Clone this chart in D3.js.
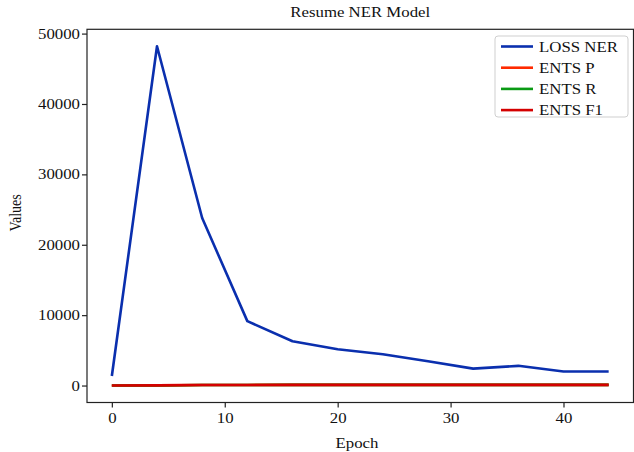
<!DOCTYPE html>
<html>
<head>
<meta charset="utf-8">
<script src="https://cdn.jsdelivr.net/npm/d3@7"></script>
<style>
  html, body { margin: 0; padding: 0; background: #fff; }
  svg { display: block; }
  text { font-family: "Liberation Serif", "Times New Roman", serif; fill: #111; }
</style>
</head>
<body>
<div id="chart"></div>
<script>
// ---- data ----
const epochs   = [0, 4, 8, 12, 16, 20, 24, 28, 32, 36, 40, 44];
const lossNer  = [1350, 48200, 23800, 9150, 6300, 5150, 4450, 3450, 2400, 2800, 2000, 2000];
const entsP    = [0, 22.4, 81.3, 86.9, 88.2, 89.1, 89.5, 90.0, 90.3, 90.1, 90.6, 90.7];
const entsR    = [0, 15.8, 78.6, 85.2, 87.0, 88.3, 88.9, 89.4, 89.8, 89.9, 90.2, 90.4];
const entsF1   = [0, 18.5, 79.9, 86.0, 87.6, 88.7, 89.2, 89.7, 90.0, 90.0, 90.4, 90.5];
const seriesNames  = ["LOSS NER", "ENTS P", "ENTS R", "ENTS F1"];
const seriesColors = ["#0a2fae", "#ff2a00", "#0a9a14", "#d40000"];
const xTicks = [0, 10, 20, 30, 40];
const yTicks = [0, 10000, 20000, 30000, 40000, 50000];
const titleText = "Resume NER Model";
const xLabel = "Epoch";
const yLabel = "Values";

const W = 634, H = 452;
const plot = { left: 87, right: 633.5, top: 29.3, bottom: 402.5 };
const SX = 1.2; // horizontal text stretch seen in reference

const svg = d3.select("#chart").append("svg").attr("width", W).attr("height", H);

const allSeries = [lossNer, entsP, entsR, entsF1];
const xExt = d3.extent(epochs);
const xPad = (xExt[1] - xExt[0]) * 0.05;
const yMin = d3.min(allSeries.flat()), yMax = d3.max(allSeries.flat());
const yPad = (yMax - yMin) * 0.05;

const x = d3.scaleLinear().domain([xExt[0] - xPad, xExt[1] + xPad]).range([plot.left, plot.right]);
const y = d3.scaleLinear().domain([yMin - yPad, yMax + yPad]).range([plot.bottom, plot.top]);

// lines
const line = d3.line().x((d, i) => x(epochs[i])).y(d => y(d));
const g = svg.append("g");
allSeries.forEach((s, k) => {
  g.append("path").datum(s)
    .attr("fill", "none")
    .attr("stroke", seriesColors[k])
    .attr("stroke-width", 2.6)
    .attr("stroke-linejoin", "round")
    .attr("d", line);
});

// frame
svg.append("rect")
  .attr("x", plot.left).attr("y", plot.top)
  .attr("width", plot.right - plot.left).attr("height", plot.bottom - plot.top)
  .attr("fill", "none").attr("stroke", "#222").attr("stroke-width", 1.2);

// axes
const xAxis = svg.append("g").attr("transform", `translate(0,${plot.bottom})`)
  .call(d3.axisBottom(x).tickValues(xTicks).tickSize(5).tickPadding(5.5).tickFormat(d3.format("d")));
const yAxis = svg.append("g").attr("transform", `translate(${plot.left},0)`)
  .call(d3.axisLeft(y).tickValues(yTicks).tickSize(5).tickPadding(2).tickFormat(d3.format("d")));
[xAxis, yAxis].forEach(a => {
  a.select(".domain").remove();
  a.selectAll(".tick line").attr("stroke", "#222").attr("stroke-width", 1.2);
  a.selectAll(".tick text").attr("font-size", 14).attr("font-family", "Liberation Serif, serif").attr("fill", "#111");
});
xAxis.selectAll(".tick text").attr("transform", `scale(${SX},1)`);
yAxis.selectAll(".tick text").each(function() {
  const t = d3.select(this);
  const tx = +t.attr("x");
  t.attr("x", 0).attr("transform", `translate(${tx},0) scale(${SX},1)`);
});

// title and labels
function stretchedText(px, py, txt, anchor, rot) {
  return svg.append("text")
    .attr("transform", `translate(${px},${py}) scale(${SX},1)` + (rot ? ` rotate(${rot})` : ""))
    .attr("text-anchor", anchor)
    .attr("font-size", 14)
    .text(txt);
}
stretchedText((plot.left + plot.right) / 2, 17, titleText, "middle");
stretchedText(357, 447.5, xLabel, "middle");
stretchedText(21, (plot.top + plot.bottom) / 2 - 3, yLabel, "middle", -90);

// legend
const lg = svg.append("g").attr("transform", "translate(495,36)");
lg.append("rect").attr("width", 133).attr("height", 81).attr("rx", 3)
  .attr("fill", "#fff").attr("stroke", "#cfcfcf").attr("stroke-width", 1);
seriesNames.forEach((name, k) => {
  const ry = 10.5 + k * 21.2;
  lg.append("line").attr("x1", 6).attr("x2", 38).attr("y1", ry).attr("y2", ry)
    .attr("stroke", seriesColors[k]).attr("stroke-width", 2.6);
  lg.append("text").attr("transform", `translate(44,${ry + 5}) scale(${SX},1)`)
    .attr("font-size", 14).text(name);
});
</script>
</body>
</html>
